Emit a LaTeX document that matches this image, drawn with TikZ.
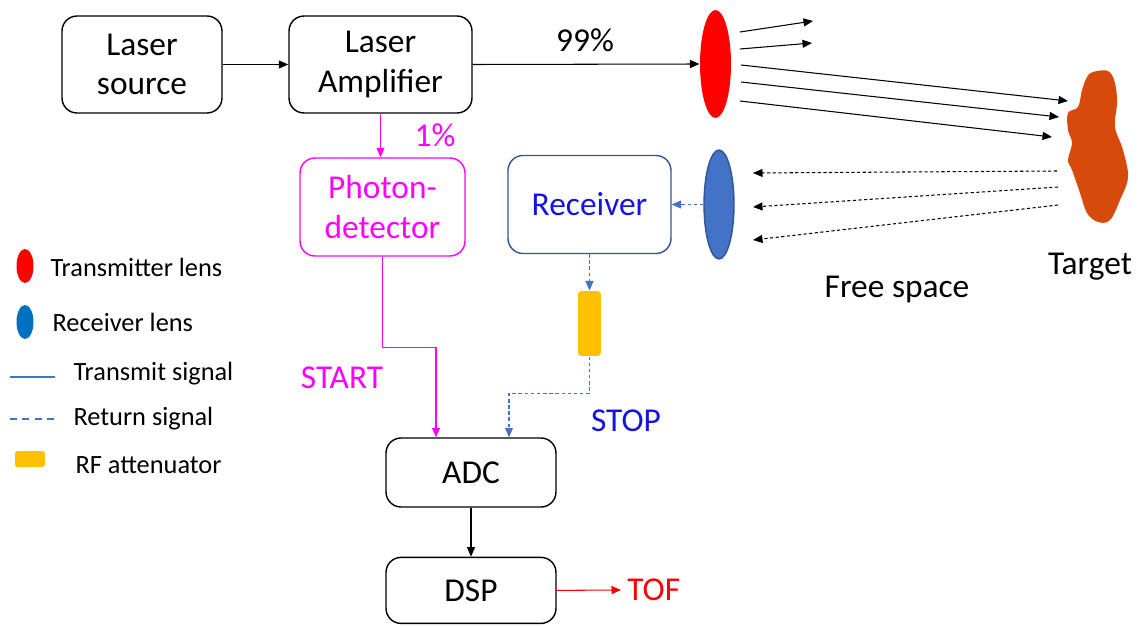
\documentclass[tikz,border=0pt]{standalone}
\usepackage{fontspec}
\setmainfont{Carlito}
\usepackage{xcolor}
\definecolor{colorStart}{RGB}{255,0,255}
\definecolor{colorStop}{RGB}{20,20,225}
\definecolor{colorReturn}{RGB}{68,114,196}
\definecolor{colorReceiver}{RGB}{47,85,151}
\definecolor{colorAtten}{RGB}{255,192,0}
\definecolor{colorTarget}{RGB}{214,75,12}
\definecolor{colorLegendRx}{RGB}{0,112,192}
\usepackage{tikz}
\usetikzlibrary{arrows.meta, shapes.geometric, positioning}
\tikzset{
  block/.style={draw, rounded corners=0.3cm, line width=0.8pt, align=center,
    font=\fontsize{19}{22.5}\selectfont},
  lens/.style={ellipse, inner sep=0pt, minimum width=0.62cm, minimum height=2.16cm},
  label/.style={font=\fontsize{19}{22}\selectfont},
  keytext/.style={anchor=west, inner sep=0pt, font=\fontsize{15}{18}\selectfont},
}

\begin{document}
\begin{tikzpicture}[x=0.02cm, y=-0.02cm, >={Triangle[length=1.9mm,width=1.6mm]}, line width=0.6pt]
\useasboundingbox (0,0) rectangle (1138,625);
% transmit chain
\node[block, minimum width=3.2cm, minimum height=1.94cm] (source) at (142,64.5) {Laser\\source};
\node[block, minimum width=3.66cm, minimum height=1.94cm] (amp) at (380.5,64.5) {Laser\\Amplifier};
\node[lens, fill=red] (txlens) at (715.5,64) {};
\node[block, draw=colorStart, text=colorStart, minimum width=3.3cm, minimum height=1.96cm] (pd) at (382.5,207) {Photon-\\detector};
% receive chain
\node[lens, fill=colorReturn, draw=colorReceiver, line width=0.8pt, minimum width=0.6cm, minimum height=2.18cm] (rxlens) at (719,204.5) {};
\node[block, draw=colorReceiver, text=colorStop, minimum width=3.26cm, minimum height=1.96cm] (rx) at (589.5,204.5) {Receiver};
\node[rectangle, rounded corners=2pt, fill=colorAtten, minimum width=0.46cm, minimum height=1.3cm] (atten) at (589.5,323.5) {};
\node[block, minimum width=3.4cm, minimum height=1.38cm] (adc) at (471,472.5) {ADC};
\node[block, minimum width=3.4cm, minimum height=1.32cm, below=0.98cm of adc] (dsp) {DSP};
\node[label, text=red, anchor=west] (tof) at (621,590) {TOF};
% target
\fill[colorTarget] plot[smooth cycle, tension=0.6] coordinates {
  (1093,72) (1108,71) (1115,83) (1117,103) (1115,127) (1123,150) (1128,177)
  (1120,200) (1110,220) (1098,222) (1087,213) (1080,193) (1072,170) (1068,160)
  (1072,143) (1068,130) (1068,113) (1078,107) (1082,90) (1087,77)};
% labels
\node[label] (pct99) at (585,40) {99\%};
\node[label, text=colorStart] (pct1) at (435,135) {1\%};
\node[label, text=colorStart] (start) at (342,378) {START};
\node[label, text=colorStop] (stop) at (626,421) {STOP};
\node[label] (space) at (897,289) {Free space};
\node[label] (target) at (1090,267) {Target};
% connections
\draw[->] (source) -- (amp);
\draw[->] (amp.east) -- (txlens.west);
\draw[->, colorStart] (amp.south) -- (amp.south |- pd.north);
\draw[->, colorStart] (pd.south) -- ++(0,91) -| ([xshift=-0.7cm]adc.north);
\draw[->, colorReturn, dash pattern=on 2pt off 1.5pt] (rxlens.west) -- (rx.east);
\draw[->, colorReturn, dash pattern=on 2pt off 1.5pt] (rx.south) -- (atten.north);
\draw[->, colorReturn, dash pattern=on 2pt off 1.5pt] (atten.south) -- ++(0,37) -| ([xshift=0.76cm]adc.north);
\draw[->] (adc) -- (dsp);
\draw[->, red] (dsp.east) -- (tof.west);
% beams in free space
\foreach \xa/\ya/\xb/\yb in {740/32/813/21, 740/49/812/43, 741/65/1068/101, 741/82/1059/117, 740/101/1052/137}
  \draw[->] (\xa,\ya) -- (\xb,\yb);
\foreach \xa/\ya/\xb/\yb in {1057/171/753/173, 1058/187/753/207, 1058/205/753/240}
  \draw[->, dash pattern=on 1.8pt off 1.4pt] (\xa,\ya) -- (\xb,\yb);
% key
\node[ellipse, fill=red, inner sep=0pt, minimum width=0.34cm, minimum height=0.68cm] (keytx) at (25,266) {};
\node[keytext] at (50,267) {Transmitter lens};
\node[ellipse, fill=colorLegendRx, inner sep=0pt, minimum width=0.34cm, minimum height=0.68cm] (keyrx) at (25,322) {};
\node[keytext] at (52,322) {Receiver lens};
\draw[colorReturn, line width=0.9pt] (10,377) -- (55,377);
\node[keytext] at (73,374) {Transmit signal};
\draw[colorReturn, line width=0.9pt, dash pattern=on 4pt off 3pt] (10,419) -- (55,419);
\node[keytext] at (73,419) {Return signal};
\fill[colorAtten, rounded corners=1.5pt] (15,451) rectangle (45,467);
\node[keytext] at (75,465) {RF attenuator};
\end{tikzpicture}
\end{document}
